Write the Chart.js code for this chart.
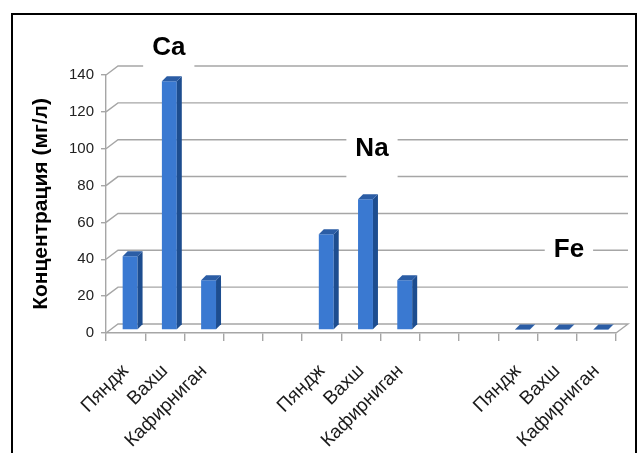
<!DOCTYPE html>
<html lang="ru">
  <head>
    <meta charset="UTF-8" />
    <title>Концентрация</title>
    <script src="https://cdn.jsdelivr.net/npm/chart.js"></script>
    <style>
      body { margin: 0; background: #fff; }
      #wrap { position: absolute; left: 0; top: 0; width: 642px; height: 453px; }
      #frame {
        position: absolute; left: 11px; top: 13px; width: 622px; height: 460px;
        border: 2px solid #000; pointer-events: none;
      }
    </style>
  </head>
  <body>
    <div id="wrap"><canvas id="grafico" width="642" height="453"></canvas></div>
    <div id="frame"></div>

    <script>
      // rivers repeated for each element, two empty slots between groups
      const rivers = ["Пяндж", "Вахш", "Кафирниган"];
      const gap = ["", ""];
      const ca = [40, 135, 27];
      const na = [52, 71, 27];
      const fe = [0.3, 0.3, 0.3];
      const yTicks = [0, 20, 40, 60, 80, 100, 120, 140];
      const elements = [
        { text: "Ca", slot: 1.1, value: 155 },
        { text: "Na", slot: 6.28, value: 100 },
        { text: "Fe", slot: 11.3, value: 45 },
      ];

      const labels = [].concat(rivers, gap, rivers, gap, rivers);
      const values = [].concat(ca, [null, null], na, [null, null], fe);

      const DX = 12, DY = -9; // depth of the 3d box

      // back wall grid, element names, then shift bars into the box
      const backWall = {
        id: "backWall",
        beforeDatasetsDraw(chart) {
          const { ctx, chartArea } = chart;
          const x = chart.scales.x, y = chart.scales.y;
          ctx.save();
          ctx.strokeStyle = "#a6a6a6";
          ctx.lineWidth = 1.4;
          yTicks.forEach(v => {
            const py = y.getPixelForValue(v);
            ctx.beginPath();
            ctx.moveTo(chartArea.left, py);
            ctx.lineTo(chartArea.left + DX, py + DY);
            ctx.lineTo(chartArea.right + DX, py + DY);
            if (v === 0) ctx.lineTo(chartArea.right, py);
            ctx.stroke();
          });

          ctx.font = "bold 26px 'Liberation Sans', sans-serif";
          ctx.textAlign = "center";
          ctx.textBaseline = "middle";
          elements.forEach(e => {
            const px = x.getPixelForValue(e.slot);
            const py = y.getPixelForValue(e.value);
            const w = ctx.measureText(e.text).width;
            ctx.fillStyle = "#fff";
            ctx.fillRect(px - w / 2 - 9, py - 18, w + 18, 52);
            ctx.fillStyle = "#000";
            ctx.fillText(e.text, px, py);
          });
          ctx.restore();

          ctx.save();
          ctx.translate(4.5, -3);
        },
        afterDatasetsDraw(chart) {
          const { ctx } = chart;
          const meta = chart.getDatasetMeta(0);
          meta.data.forEach((bar, i) => {
            if (values[i] == null) return;
            const { x, y, base, width } = bar.getProps(["x", "y", "base", "width"], true);
            const l = x - width / 2, r = x + width / 2;
            const dx = 5, dy = -5;
            ctx.fillStyle = "#1d4d8f";
            ctx.beginPath();
            ctx.moveTo(r, y); ctx.lineTo(r + dx, y + dy);
            ctx.lineTo(r + dx, base + dy); ctx.lineTo(r, base);
            ctx.closePath(); ctx.fill();
            ctx.fillStyle = "#2b5da5";
            ctx.beginPath();
            ctx.moveTo(l, y); ctx.lineTo(l + dx, y + dy);
            ctx.lineTo(r + dx, y + dy); ctx.lineTo(r, y);
            ctx.closePath(); ctx.fill();
          });
          ctx.restore();
        },
      };

      new Chart(grafico, {
        type: "bar",
        data: {
          labels: labels,
          datasets: [
            {
              label: "Концентрация",
              data: values,
              backgroundColor: "#3a79d1",
              borderWidth: 0,
              categoryPercentage: 1,
              barPercentage: 0.38,
            },
          ],
        },
        options: {
          responsive: false,
          animation: false,
          events: [],
          layout: { padding: { top: 75, right: 26, left: 14, bottom: 0 } },
          plugins: { legend: { display: false }, tooltip: { enabled: false } },
          scales: {
            x: {
              grid: {
                offset: true,
                drawOnChartArea: false,
                tickLength: 8,
                color: "#a6a6a6",
                lineWidth: 1.4,
              },
              border: { color: "#a6a6a6", width: 1.4 },
              ticks: {
                autoSkip: false,
                minRotation: 45,
                maxRotation: 45,
                padding: 19,
                color: "#1a1a1a",
                font: { family: "'Liberation Sans', sans-serif", size: 19 },
              },
              afterFit(scale) { scale.height = 120; },
            },
            y: {
              min: 0,
              max: 140,
              afterBuildTicks(scale) { scale.ticks = yTicks.map(v => ({ value: v })); },
              grid: { drawOnChartArea: false, tickLength: 5, color: "#a6a6a6", lineWidth: 1.4 },
              border: { color: "#a6a6a6", width: 1.4 },
              ticks: {
                padding: 7,
                color: "#222",
                font: { family: "'Liberation Sans', sans-serif", size: 15 },
              },
              title: {
                display: true,
                text: "Концентрация (мг/л)",
                color: "#000",
                padding: { top: 15, bottom: 0 },
                font: { family: "'Liberation Sans', sans-serif", size: 21, weight: "bold" },
              },
              afterFit(scale) { scale.width = 92; },
            },
          },
        },
        plugins: [backWall],
      });
    </script>
  </body>
</html>
